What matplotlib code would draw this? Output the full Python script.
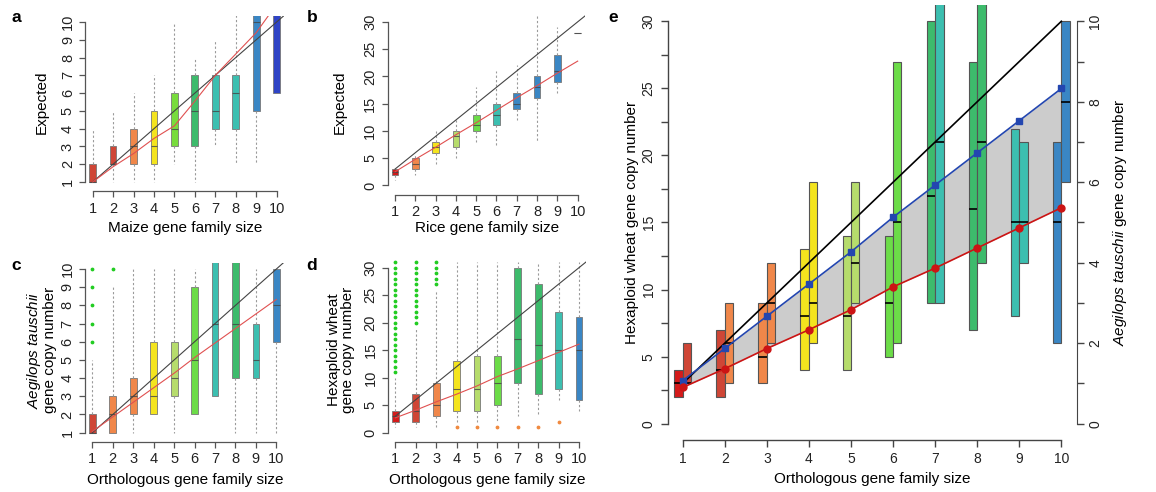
import matplotlib
matplotlib.use("Agg")
import matplotlib.pyplot as plt
import numpy as np

plt.rcParams["font.family"] = ["Liberation Sans", "DejaVu Sans"]
plt.rcParams["mathtext.fontset"] = "custom"
plt.rcParams["mathtext.it"] = "Liberation Sans:italic"
plt.rcParams["mathtext.rm"] = "Liberation Sans"

W, H = 1156, 492

sizes = np.arange(1, 11)

RED = "#d41a1a"
BRICK = "#cf4636"
ORANGE = "#f0874a"
YELLOW = "#f4e41e"
LGREEN = "#b6dc6c"
GREEN = "#6cdc48"
DGREEN = "#3dbb6c"
TEAL = "#3cbfb0"
BLUE = "#3a86c4"
DBLUE = "#2f44c6"

# panel a: maize
maize_q1 = [1, 2, 2, 2, 3, 3, 4, 4, 5, 6]
maize_med = [1, 2, 3, 3, 4, 5, 5, 6, 10, 11]
maize_q3 = [2, 3, 4, 5, 6, 7, 7, 7, 12, 12]
maize_lo = [1, 1, 1, 1, 2, 1, 3, 2, 2, 6]
maize_hi = [4, 5, 6, 7, 10, 8, 9, 11, 12, 12]
maize_trend = [1.0, 1.86, 2.6, 3.45, 4.16, 5.55, 7.0, 8.2, 9.4, 11.0]
maize_colors = [BRICK, BRICK, ORANGE, YELLOW, "#78dc3c", DGREEN, TEAL, TEAL, BLUE, DBLUE]

# panel b: rice
rice_q1 = [2, 3, 6, 7, 10, 11, 14, 16, 19, 28]
rice_med = [2.5, 4, 7, 9, 11, 13, 15, 18, 21, 28]
rice_q3 = [3, 5, 8, 10, 13, 15, 17, 20, 24, 28]
rice_lo = [1, 2, 4, 5, 8, 7, 12, 8, 17, 28]
rice_hi = [3, 5.5, 10, 12, 18, 21, 22, 31, 29, 28]
rice_trend = [2.5, 4.8, 7.0, 9.3, 11.5, 13.8, 16.1, 18.3, 20.6, 22.8]
rice_colors = [RED, ORANGE, YELLOW, LGREEN, GREEN, TEAL, BLUE, BLUE, BLUE, "#aaaaaa"]

# panel c: Aegilops tauschii
aeg_q1 = [1, 1, 2, 2, 3, 2, 3, 4, 4, 6]
aeg_med = [1, 2, 3, 3, 4, 5, 7, 7, 5, 8]
aeg_q3 = [2, 3, 4, 6, 6, 9, 12, 12, 7, 10]
aeg_lo = [1, 1, 1, 2, 1, 2, 3, 1, 1, 1]
aeg_hi = [5, 9, 10, 10, 10, 10, 12, 12, 10, 10]
aeg_trend = [1.07, 1.87, 2.67, 3.47, 4.27, 5.13, 5.93, 6.73, 7.53, 8.33]
aeg_colors = [BRICK, ORANGE, ORANGE, YELLOW, LGREEN, GREEN, TEAL, DGREEN, TEAL, BLUE]
aeg_out_x = [1, 1, 1, 1, 1, 2]
aeg_out_y = [6, 7, 8, 9, 10, 10]

# panel d: hexaploid wheat
wheat_q1 = [2, 2, 3, 4, 4, 5, 9, 7, 8, 6]
wheat_med = [3, 4, 5, 8, 8, 9, 17, 16, 15, 15]
wheat_q3 = [4, 7, 9, 13, 14, 14, 30, 27, 22, 21]
wheat_lo = [1, 1, 1, 2, 2, 2, 3, 3, 6, 4]
wheat_hi = [10, 19, 26, 31, 31, 31, 31, 31, 31, 31]
wheat_trend = [2.7, 4.1, 5.6, 7.0, 8.5, 10.2, 11.6, 13.1, 14.6, 16.1]
wheat_colors = [RED, BRICK, ORANGE, YELLOW, LGREEN, GREEN, DGREEN, DGREEN, TEAL, BLUE]
wheat_high_out = {1: list(range(11, 32)), 2: list(range(20, 32)), 3: list(range(27, 32))}
wheat_low_out = {4: [1], 5: [1], 6: [1], 7: [1], 8: [1], 9: [2]}

AEG_SCALE = 3  # right axis of panel e: 0-10 against 0-30


def px_axes(fig, left, top, right, bottom):
    return fig.add_axes([left / W, 1 - bottom / H, (right - left) / W, (bottom - top) / H])


def label_at(ax, axis, text, px, py, **kw):
    box = ax.get_position()
    xa = (px / W - box.x0) / box.width
    ya = ((1 - py / H) - box.y0) / box.height
    if axis == "x":
        ax.set_xlabel(text, va="center", ha="center", **kw)
        ax.xaxis.set_label_coords(xa, ya)
    else:
        ax.set_ylabel(text, va="center", ha="center", **kw)
        ax.yaxis.set_label_coords(xa, ya)


def style_axes(ax, ylo, yhi, yticks, fs=10.5):
    ax.set_xlim(1 - 0.36, 10.36)
    pad = 0.04 * (yhi - ylo)
    ax.set_ylim(ylo - pad, yhi + pad)
    ax.spines["top"].set_visible(False)
    ax.spines["right"].set_visible(False)
    ax.spines["left"].set_bounds(ylo, yhi)
    ax.spines["bottom"].set_bounds(1, 10)
    ax.spines["bottom"].set_position(("outward", 2))
    for s in ("left", "bottom"):
        ax.spines[s].set_color("#555555")
        ax.spines[s].set_linewidth(0.9)
    ax.set_xticks(sizes)
    ax.set_yticks(yticks)
    ax.tick_params(colors="#555555", labelcolor="#222222", labelsize=fs, length=4, width=0.9)
    for lab in ax.get_yticklabels():
        lab.set_rotation(90)
        lab.set_va("center")


def draw_boxes(ax, q1, med, q3, lo, hi, colors):
    stats = [dict(q1=a, med=m, q3=b, whislo=l, whishi=h, fliers=[])
             for a, m, b, l, h in zip(q1, med, q3, lo, hi)]
    bp = ax.bxp(stats, positions=sizes, widths=0.33, patch_artist=True,
                showcaps=False, showfliers=False, manage_ticks=False,
                whiskerprops=dict(color="#9a9a9a", linestyle=(0, (2, 2)), lw=0.8),
                medianprops=dict(color="#444444", lw=0.8, alpha=0.8),
                boxprops=dict(edgecolor="#777777", lw=0.6))
    for patch, c in zip(bp["boxes"], colors):
        patch.set_facecolor(c)


def expected_line(ax, ratio):
    x = np.array([sizes[0], sizes[-1] + 1])
    ax.plot(x, x * ratio, color="#444444", lw=0.8, zorder=5)


fig = plt.figure(figsize=(W / 100, H / 100), dpi=100)

# a
ax = px_axes(fig, 85.3, 15.6, 284, 188.4)
style_axes(ax, 1, 10, range(1, 11))
draw_boxes(ax, maize_q1, maize_med, maize_q3, maize_lo, maize_hi, maize_colors)
expected_line(ax, 1)
ax.plot(sizes, maize_trend, color="#e05050", lw=0.8, zorder=5)
label_at(ax, "x", "Maize gene family size", 185, 228, fontsize=11)
label_at(ax, "y", "Expected", 42, 102, fontsize=11)

# b
ax = px_axes(fig, 387.7, 15.3, 585, 192)
style_axes(ax, 0, 30, range(0, 31, 5))
draw_boxes(ax, rice_q1, rice_med, rice_q3, rice_lo, rice_hi, rice_colors)
expected_line(ax, 3)
ax.plot(sizes, rice_trend, color="#e05050", lw=0.8, zorder=5)
label_at(ax, "x", "Rice gene family size", 487, 228, fontsize=11)
label_at(ax, "y", "Expected", 340, 102, fontsize=11)

# c
ax = px_axes(fig, 85, 262.5, 283.7, 439.2)
style_axes(ax, 1, 10, range(1, 11))
draw_boxes(ax, aeg_q1, aeg_med, aeg_q3, aeg_lo, aeg_hi, aeg_colors)
ax.scatter(aeg_out_x, aeg_out_y, s=3, color="#22cc22", zorder=4)
expected_line(ax, 1)
ax.plot(sizes, aeg_trend, color="#e05050", lw=0.8, zorder=5)
label_at(ax, "x", "Orthologous gene family size", 185, 480, fontsize=11)
label_at(ax, "y", r"$\it{Aegilops\ tauschii}$" + "\ngene copy number", 41, 350,
         fontsize=11, linespacing=0.95)

# d
ax = px_axes(fig, 388, 261.1, 586.3, 439.3)
style_axes(ax, 0, 30, range(0, 31, 5))
draw_boxes(ax, wheat_q1, wheat_med, wheat_q3, wheat_lo, wheat_hi, wheat_colors)
for k, vals in wheat_high_out.items():
    ax.scatter([k] * len(vals), vals, s=3, color="#22cc22", zorder=4, clip_on=False)
for k, vals in wheat_low_out.items():
    ax.scatter([k] * len(vals), vals, s=3, color="#f08a40", zorder=4)
expected_line(ax, 3)
ax.plot(sizes, wheat_trend, color="#e05050", lw=0.8, zorder=5)
label_at(ax, "x", "Orthologous gene family size", 487, 480, fontsize=11)
label_at(ax, "y", "Hexaploid wheat\ngene copy number", 341, 350,
         fontsize=11, linespacing=0.95)

# e
ax = px_axes(fig, 667.5, 5.2, 1076.5, 439.8)
ax.set_xlim(0.64, 10.36)
ax.set_ylim(-1.2, 31.2)
for s in ("top", "right"):
    ax.spines[s].set_visible(False)
ax.spines["left"].set_bounds(0, 30)
ax.spines["bottom"].set_bounds(1, 10)
for s in ("left", "bottom"):
    ax.spines[s].set_color("#444444")
    ax.spines[s].set_linewidth(1.0)
ax.set_xticks(sizes)
yt = np.arange(0, 30.1, 2.5)
ax.set_yticks(yt)
ax.set_yticklabels([f"{v:g}" if v % 5 == 0 else "" for v in yt])
ax.tick_params(colors="#444444", labelcolor="#222222", labelsize=10, length=5, width=1.0)
for lab in ax.get_yticklabels():
    lab.set_rotation(90)
    lab.set_va("center")

aeg_scaled = np.array(aeg_trend) * AEG_SCALE
ax.fill_between(sizes, wheat_trend, aeg_scaled, color="#cccccc", lw=0, zorder=1)
wq1, wq3 = np.array(wheat_q1), np.array(wheat_q3)
aq1, aq3 = np.array(aeg_q1) * AEG_SCALE, np.array(aeg_q3) * AEG_SCALE
ax.bar(sizes - 0.2, wq3 - wq1, bottom=wq1, width=0.2, align="edge",
       color=wheat_colors, edgecolor="#555555", lw=0.8, zorder=2)
ax.bar(sizes, aq3 - aq1, bottom=aq1, width=0.2, align="edge",
       color=aeg_colors, edgecolor="#555555", lw=0.8, zorder=2)
ax.hlines(wheat_med, sizes - 0.2, sizes, color="black", lw=1.2, zorder=3)
ax.hlines(np.array(aeg_med) * AEG_SCALE, sizes, sizes + 0.2, color="black", lw=1.2, zorder=3)
ax.plot([sizes[0], sizes[-1]], [sizes[0] * 3, sizes[-1] * 3], color="black", lw=1.2, zorder=4)
ax.plot(sizes, aeg_scaled, color="#2346b0", lw=1.2, marker="s", ms=4, zorder=5)
ax.plot(sizes, wheat_trend, color="#cc1414", lw=1.2, marker="o", ms=5, zorder=5)

sec = ax.secondary_yaxis("right", functions=(lambda y: y / AEG_SCALE, lambda y: y * AEG_SCALE))
rt = np.arange(0, 11)
sec.set_yticks(rt)
sec.set_yticklabels([str(v) if v % 2 == 0 else "" for v in rt])
sec.spines["right"].set_bounds(0, 10)
sec.spines["right"].set_color("#444444")
sec.tick_params(colors="#444444", labelcolor="#222222", labelsize=10, length=5, width=1.0)
for lab in sec.get_yticklabels():
    lab.set_rotation(90)
    lab.set_va("center")

label_at(ax, "x", "Orthologous gene family size", 872, 479, fontsize=11)
label_at(ax, "y", "Hexaploid wheat gene copy number", 632, 222, fontsize=11)
sec.set_ylabel(r"$\it{Aegilops\ tauschii}$ gene copy number", fontsize=11, labelpad=6)

for letter, px, py in (("a", 16, 17), ("b", 312, 17), ("c", 16, 266), ("d", 312, 266), ("e", 613, 17)):
    fig.text(px / W, 1 - py / H, letter, fontsize=12.5, fontweight="bold", va="center", ha="center")

fig.savefig("out.png", dpi=100)
